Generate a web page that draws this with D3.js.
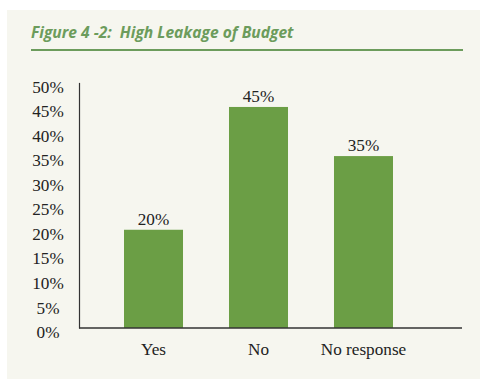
<!DOCTYPE html>
<html><head><meta charset="utf-8">
<script src="https://cdn.jsdelivr.net/npm/d3@7"></script>
<style>html,body{margin:0;padding:0;background:#fff;}</style>
</head><body>
<svg id="chart" width="480" height="379"></svg>
<script>
const title = "Figure 4 -2:  High Leakage of Budget";
const categories = ["Yes", "No", "No response"];
const values = [20, 45, 35];
const yTicks = [0, 5, 10, 15, 20, 25, 30, 35, 40, 45, 50];

const svg = d3.select("#chart");
const green = "#6b9e45";
const titleGreen = "#6c9c5c";
const serif = "'Liberation Serif', 'Times New Roman', serif";
const fs = 17.2;

svg.append("rect").attr("x", 7).attr("y", 10).attr("width", 473).attr("height", 369).attr("fill", "#f6f6ef");

svg.append("text").attr("x", 31).attr("y", 38).style("white-space", "pre")
  .attr("font-family", "'Open Sans', sans-serif").attr("font-weight", "bold").attr("font-style", "italic")
  .attr("font-size", 15.6).attr("fill", titleGreen).text(title);
svg.append("line").attr("x1", 31).attr("x2", 463).attr("y1", 50).attr("y2", 50)
  .attr("stroke", titleGreen).attr("stroke-width", 2);

const axisLeft = 79, axisRight = 462;
const y = d3.scaleLinear().domain([0, 50]).range([328, 82.4]);
const x = d3.scaleBand().domain(categories).range([124, 393]).paddingInner(0.438).paddingOuter(0);

// y axis
const ya = svg.append("g").attr("transform", `translate(${axisLeft},0)`)
  .call(d3.axisLeft(y).tickValues(yTicks).tickSize(0).tickPadding(0).tickFormat(d => d + "%"));
ya.select(".domain").attr("stroke", "#333").attr("stroke-width", 1.2);
ya.selectAll("text").attr("x", 48 - axisLeft).attr("text-anchor", "middle").attr("dy", "0.56em")
  .attr("font-family", serif).attr("font-size", fs).attr("fill", "#222");

// bars
svg.append("g").selectAll("rect").data(values).join("rect")
  .attr("x", (d, i) => x(categories[i])).attr("width", x.bandwidth())
  .attr("y", d => y(d)).attr("height", d => y(0) - y(d)).attr("fill", green);

// value labels
svg.append("g").selectAll("text").data(values).join("text")
  .attr("x", (d, i) => x(categories[i]) + x.bandwidth() / 2).attr("y", d => y(d) - 5)
  .attr("text-anchor", "middle").attr("font-family", serif).attr("font-size", fs).attr("fill", "#222")
  .text(d => d + "%");

// x axis
svg.append("line").attr("x1", axisLeft).attr("x2", axisRight).attr("y1", y(0)).attr("y2", y(0))
  .attr("stroke", "#333").attr("stroke-width", 1.5);
svg.append("g").selectAll("text").data(categories).join("text")
  .attr("x", d => x(d) + x.bandwidth() / 2).attr("y", 355)
  .attr("text-anchor", "middle").attr("font-family", serif).attr("font-size", fs).attr("fill", "#222")
  .text(d => d);
</script>
</body></html>
